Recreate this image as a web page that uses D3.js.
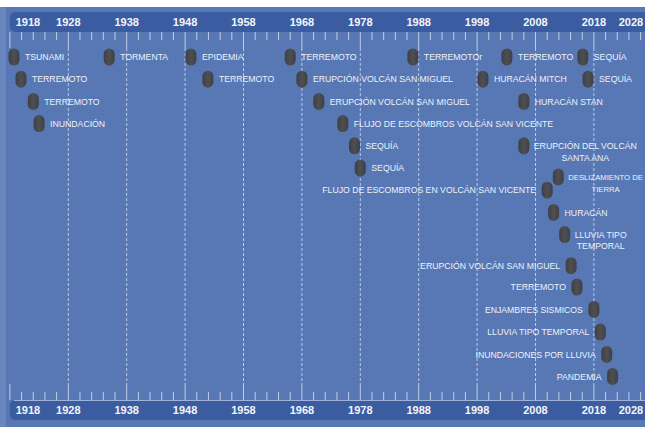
<!DOCTYPE html>
<html>
<head>
<meta charset="utf-8">
<script src="https://cdn.jsdelivr.net/npm/d3@7/dist/d3.min.js"></script>
<style>
  html, body { margin: 0; padding: 0; background: #ffffff; }
  svg { display: block; }
</style>
</head>
<body>
<svg id="chart" width="645" height="427"></svg>
<script>
// ---- data ----
const axisYears = d3.range(1918, 2029, 10);          // decade tick labels
const eventNames = [
  "TSUNAMI", "TERREMOTO", "TERREMOTO", "INUNDACIÓN", "TORMENTA", "EPIDEMIA", "TERREMOTO",
  "TERREMOTO", "ERUPCIÓN VOLCÁN SAN MIGUEL", "ERUPCIÓN VOLCÁN SAN MIGUEL",
  "FLUJO DE ESCOMBROS VOLCÁN SAN VICENTE", "SEQUÍA", "SEQUÍA", "TERREMOTOr",
  "HURACÁN MITCH", "TERREMOTO", "HURACÁN STAN", "ERUPCIÓN DEL VOLCÁN\nSANTA ANA",
  "FLUJO DE ESCOMBROS EN VOLCÁN SAN VICENTE", "HURACÁN", "DESLIZAMIENTO DE\nTIERRA",
  "LLUVIA TIPO\nTEMPORAL", "ERUPCIÓN VOLCÁN SAN MIGUEL", "TERREMOTO", "SEQUÍA", "SEQUÍA",
  "ENJAMBRES SISMICOS", "LLUVIA TIPO TEMPORAL", "INUNDACIONES POR LLUVIA", "PANDEMIA"
];
const eventYears = [
  1918.7, 1919.9, 1922.0, 1923.0, 1935.0, 1949.0, 1951.9,
  1966.0, 1968.0, 1970.9,
  1975.0, 1977.0, 1978.0, 1987.0,
  1999.0, 2003.1, 2006.0, 2006.0,
  2010.0, 2011.1, 2011.9,
  2013.0, 2014.1, 2015.1, 2016.1, 2017.0,
  2018.0, 2019.1, 2020.2, 2021.2
];
const eventLanes = [
  0, 1, 2, 3, 0, 0, 1,
  0, 1, 2,
  3, 4, 5, 0,
  1, 0, 2, 4,
  6, 7, 5.4,
  8, 9.4, 10.36, 0, 1,
  11.37, 12.39, 13.4, 14.39
];
const labelSide = [
  "R","R","R","R","R","R","R",
  "R","R","R",
  "R","R","R","R",
  "R","R","R","R",
  "L","R","R",
  "R","L","L","R","R",
  "L","L","L","L"
];

// ---- layout ----
const W = 645, H = 427;
const svg = d3.select("#chart");
const x = d3.scaleLinear().domain([1918, 2028]).range([9.9, 652.3]);
const y = d3.scaleLinear().domain([0, 1]).range([57, 79.2]);

const bgColor = "#5677b4";
const bandColor = "#3b5ca1";
const tickColor = "#d3ddf0";
const textColor = "#eef2f9";

const defs = svg.append("defs");
const pat = defs.append("pattern").attr("id", "tex").attr("width", 4).attr("height", 4)
  .attr("patternUnits", "userSpaceOnUse");
pat.append("rect").attr("width", 4).attr("height", 4).attr("fill", bgColor);
pat.append("path").attr("d", "M0 0.5H4M0.5 0V4").attr("stroke", "#6482bc").attr("stroke-width", 0.5).attr("opacity", 0.22);

const grad = defs.append("linearGradient").attr("id", "pill").attr("x1", 0).attr("x2", 1);
grad.append("stop").attr("offset", "0%").attr("stop-color", "#3e4044");
grad.append("stop").attr("offset", "50%").attr("stop-color", "#4d4f53");
grad.append("stop").attr("offset", "100%").attr("stop-color", "#3e4044");

// background
svg.append("rect").attr("width", W).attr("height", H).attr("fill", "#ffffff");
svg.append("rect").attr("x", 0).attr("y", 7).attr("width", W).attr("height", H - 7).attr("fill", "#6a86bf");
svg.append("rect").attr("x", 6).attr("y", 7).attr("width", W - 6).attr("height", H - 7).attr("fill", "url(#tex)");

// bands
const topBand = [12, 32], botBand = [400, 420];
svg.append("rect").attr("x", x(1918)).attr("y", topBand[0]).attr("width", W + 20 - x(1918))
  .attr("height", topBand[1] - topBand[0]).attr("rx", 5).attr("fill", bandColor);
svg.append("rect").attr("x", x(1918)).attr("y", botBand[0]).attr("width", W + 20 - x(1918))
  .attr("height", botBand[1] - botBand[0]).attr("rx", 5).attr("fill", bandColor);
svg.append("line").attr("x1", x(1918) + 4).attr("x2", W).attr("y1", botBand[0] + 0.5).attr("y2", botBand[0] + 0.5)
  .attr("stroke", "#9fb3da").attr("stroke-width", 1);

// ticks
const tickYears = d3.range(1918, 2029, 2);
const isMajor = yr => (yr - 1918) % 10 === 0;
svg.append("g").selectAll("line").data(tickYears).join("line")
  .attr("x1", d => x(d)).attr("x2", d => x(d))
  .attr("y1", topBand[1]).attr("y2", d => isMajor(d) ? topBand[1] + 16 : topBand[1] + 8)
  .attr("stroke", tickColor).attr("stroke-width", 1).attr("opacity", 0.85);
svg.append("g").selectAll("line").data(tickYears).join("line")
  .attr("x1", d => x(d)).attr("x2", d => x(d))
  .attr("y1", d => isMajor(d) ? botBand[0] - 16 : botBand[0] - 8).attr("y2", botBand[0])
  .attr("stroke", tickColor).attr("stroke-width", 1).attr("opacity", 0.85);

// dashed decade gridlines
svg.append("g").selectAll("line").data(axisYears.filter(d => d > 1918 && d < 2028)).join("line")
  .attr("x1", d => x(d)).attr("x2", d => x(d))
  .attr("y1", topBand[1] + 16).attr("y2", botBand[0] - 16)
  .attr("stroke", "#dfe7f6").attr("stroke-width", 1).attr("stroke-dasharray", "3,2").attr("opacity", 0.75);

// year labels
const labelX = d => Math.max(28, Math.min(631, x(d)));
[[topBand, "top"], [botBand, "bot"]].forEach(([band]) => {
  svg.append("g").selectAll("text").data(axisYears).join("text")
    .attr("x", labelX).attr("y", (band[0] + band[1]) / 2 + 4)
    .attr("text-anchor", "middle")
    .attr("font-family", "'Liberation Sans', Arial, sans-serif")
    .attr("font-weight", "bold").attr("font-size", 11)
    .attr("fill", "#f2f5fb")
    .text(d => d);
});

// events
const events = eventNames.map((n, i) => ({ name: n, year: eventYears[i], lane: eventLanes[i], side: labelSide[i] }));
const pw = 11, ph = 17;
const g = svg.append("g");
const eg = g.selectAll("g.ev").data(events).join("g").attr("class", "ev");
eg.append("rect")
  .attr("x", d => x(d.year) - pw / 2).attr("y", d => y(d.lane) - ph / 2)
  .attr("width", pw).attr("height", ph).attr("rx", pw / 2).attr("ry", pw / 2)
  .attr("fill", "url(#pill)");

eg.each(function (d) {
  const sel = d3.select(this);
  const lines = d.name.split("\n");
  const cx = x(d.year), cy = y(d.lane);
  const t = sel.append("text")
    .attr("font-family", "'Liberation Sans', Arial, sans-serif")
    .attr("font-size", 8.7).attr("fill", textColor);
  if (lines.length === 1) {
    t.attr("x", d.side === "R" ? cx + 11 : cx - 11)
      .attr("y", cy + 3.2)
      .attr("text-anchor", d.side === "R" ? "start" : "end")
      .text(lines[0]);
  } else {
    const spans = lines.map((ln, k) => t.append("tspan").attr("y", cy + 3.2 + k * 11.5).text(ln));
    let widths = spans.map(s => s.node().getComputedTextLength());
    let wmax = d3.max(widths);
    const start = cx + 10;
    const room = W - 2 - start;
    if (wmax > room) {
      // keep the whole label inside the picture
      t.attr("font-size", 8.7 * room / wmax);
      widths = spans.map(s => s.node().getComputedTextLength());
      wmax = d3.max(widths);
    }
    const center = start + wmax / 2;
    spans.forEach(s => s.attr("x", center).attr("text-anchor", "middle"));
  }
});
</script>
</body>
</html>
